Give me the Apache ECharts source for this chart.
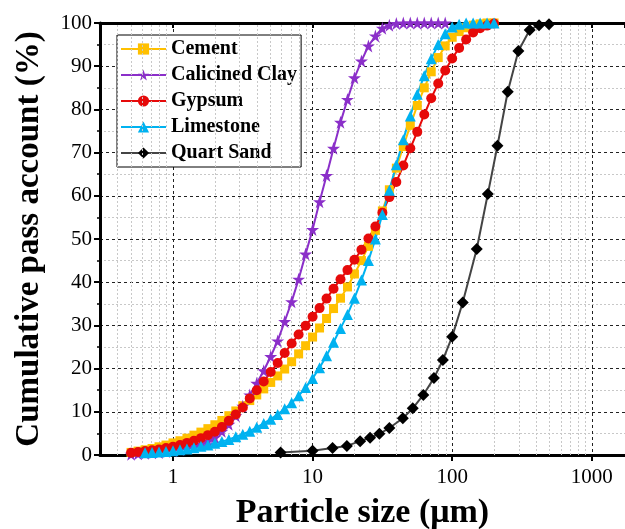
<!DOCTYPE html>
<html>
<head>
<meta charset="utf-8">
<script src="https://cdn.jsdelivr.net/npm/echarts@6/dist/echarts.min.js"></script>
<style>
  html, body { margin: 0; padding: 0; background: #fff; }
  #main { width: 625px; height: 529px; }
</style>
</head>
<body>
<div id="main"></div>
<script>
// particle size bins (µm), shared by the four powder curves
var sizeBins = [0.501, 0.562, 0.631, 0.708, 0.794, 0.891, 1, 1.122, 1.259, 1.413,
  1.585, 1.778, 1.995, 2.239, 2.512, 2.818, 3.162, 3.548, 3.981, 4.467,
  5.012, 5.623, 6.310, 7.079, 7.943, 8.913, 10.0, 11.22, 12.59, 14.13,
  15.85, 17.78, 19.95, 22.39, 25.12, 28.18, 31.62, 35.48, 39.81, 44.67,
  50.12, 56.23, 63.10, 70.79, 79.43, 89.13, 100, 112.2, 125.9, 141.3,
  158.5, 177.8, 199.5, 223.9];

// cumulative passing (%) per bin
var cementPass = [0.6, 0.9, 1.2, 1.5, 1.9, 2.3, 2.8, 3.3, 3.9, 4.6,
  5.3, 6.1, 7.0, 8.0, 9.1, 10.2, 11.4, 12.6, 13.9, 15.3,
  16.8, 18.3, 19.9, 21.6, 23.4, 25.3, 27.3, 29.4, 31.6, 33.9,
  36.3, 38.9, 41.9, 45.0, 48.3, 52.0, 56.5, 61.4, 66.4, 71.4,
  76.3, 80.9, 85.0, 88.7, 92.0, 94.7, 96.7, 98.0, 98.9, 99.5,
  99.8, 100, 100, null];
var clayPass = [0.2, 0.3, 0.4, 0.5, 0.6, 0.8, 1.0, 1.3, 1.6, 2.0,
  2.5, 3.2, 4.1, 5.5, 7.1, 9.1, 11.3, 13.9, 16.6, 19.5,
  22.8, 26.4, 30.9, 35.5, 40.7, 46.5, 52.2, 58.6, 64.7, 71.0,
  77.0, 82.3, 87.3, 91.2, 94.7, 97.0, 98.8, 99.5, 99.9, 100,
  100, 100, 100, 100, 100, 100, null, null, null, null,
  null, null, null, null];
var gypsumPass = [0.5, 0.7, 0.9, 1.1, 1.3, 1.6, 1.9, 2.3, 2.8, 3.3,
  3.9, 4.6, 5.4, 6.5, 7.9, 9.4, 11.0, 13.1, 15.0, 17.0,
  19.2, 21.3, 23.6, 25.8, 27.9, 29.9, 32.0, 34.0, 36.2, 38.5,
  40.7, 42.8, 45.2, 47.5, 50.1, 52.9, 56.1, 59.7, 63.2, 67.0,
  71.0, 74.8, 78.8, 82.6, 86.0, 89.0, 91.8, 94.2, 96.2, 97.8,
  98.8, 99.4, 99.9, null];
var limestonePass = [null, null, 0.5, 0.6, 0.7, 0.8, 1.0, 1.2, 1.4, 1.7,
  2.0, 2.3, 2.7, 3.1, 3.6, 4.2, 4.8, 5.5, 6.4, 7.3,
  8.3, 9.4, 10.7, 12.1, 13.7, 15.6, 17.7, 20.2, 23.0, 26.1,
  29.3, 32.5, 36.3, 40.5, 45.0, 50.0, 55.7, 61.3, 67.2, 73.0,
  78.5, 83.5, 87.8, 91.7, 95.0, 97.5, 99.1, 99.7, 100, 100,
  100, 100, 100, null];

// quartz sand has its own sizes
var sandSize = [5.9, 10, 13.9, 17.6, 21.9, 25.8, 30.1, 35.5, 44.3, 52.2,
  62.1, 74, 85.8, 100, 119, 150, 180, 211, 250, 298, 359, 419, 494];
var sandPass = [0.6, 1.0, 1.6, 2.1, 3.2, 4.0, 4.9, 6.25, 8.5, 10.8,
  13.9, 17.8, 22.0, 27.4, 35.3, 47.7, 60.4, 71.6, 84.1, 93.5, 98.4, 99.5, 99.7];

var xTickLabels = ['1', '10', '100', '1000'];
var xMinorTicks = [0.4, 0.5, 0.6, 0.7, 0.8, 0.9, 2, 3, 4, 5, 6, 7, 8, 9,
  20, 30, 40, 50, 60, 70, 80, 90, 200, 300, 400, 500, 600, 700, 800, 900];

var font = '"Liberation Serif", "Times New Roman", serif';
var starPath = 'path://M50,0 L61,35 L98,35 L68,57 L79,91 L50,70 L21,91 L32,57 L2,35 L39,35 Z';

function pair(xs, ys) {
  var out = [];
  for (var i = 0; i < xs.length; i++) {
    if (ys[i] != null) out.push([xs[i], ys[i]]);
  }
  return out;
}

function curve(name, xs, ys, color, symbol, size, lineColor) {
  return {
    name: name,
    type: 'line',
    data: pair(xs, ys),
    symbol: symbol,
    symbolSize: size,
    showAllSymbol: true,
    lineStyle: { color: lineColor || color, width: 2 },
    itemStyle: { color: color },
    z: 5
  };
}

var minorLines = xMinorTicks.map(function (v) {
  return { xAxis: v };
});
// little tick stubs below the bottom axis
var minorStubs = xMinorTicks.map(function (v) {
  return [
    { coord: [v, 0], lineStyle: { color: '#000', width: 1.5, type: 'solid' } },
    { coord: [v, -0.9] }
  ];
});

var myChart = echarts.init(document.getElementById('main'), null, { renderer: 'canvas' });

var option = {
  animation: false,
  backgroundColor: '#fff',
  grid: { left: 100, right: 0, top: 23, bottom: 74, containLabel: false, outerBoundsMode: 'none' },
  legend: {
    orient: 'vertical',
    left: 117,
    top: 35,
    itemWidth: 45,
    itemHeight: 14,
    itemGap: 6,
    padding: [4, 4, 4, 3],
    backgroundColor: '#fff',
    borderColor: '#000',
    borderWidth: 1,
    textStyle: { fontFamily: font, fontWeight: 'bold', fontSize: 20, color: '#000' },
    data: ['Cement', 'Calicined Clay', 'Gypsum', 'Limestone', 'Quart Sand']
  },
  xAxis: [{
    type: 'log',
    logBase: 10,
    min: 0.3,
    max: 1730,
    position: 'bottom',
    name: 'Particle size (μm)',
    nameLocation: 'middle',
    nameGap: 41,
    nameTextStyle: { fontFamily: font, fontWeight: 'bold', fontSize: 34, color: '#000' },
    axisLine: { show: true, onZero: false, lineStyle: { color: '#000', width: 3 } },
    axisTick: { show: true, inside: false, length: 6, lineStyle: { color: '#000', width: 2 } },
    axisLabel: {
      fontFamily: font, fontSize: 21, color: '#000', margin: 12,
      showMinLabel: false, showMaxLabel: false,
      formatter: function (v) {
        var s = String(Math.round(v));
        return xTickLabels.indexOf(s) >= 0 && Math.abs(v - Math.round(v)) < 1e-6 ? s : '';
      }
    },
    splitLine: { show: true, lineStyle: { color: '#222', width: 1, type: [3, 3] } }
  }, {
    type: 'log',
    logBase: 10,
    min: 0.3,
    max: 1730,
    position: 'top',
    axisLine: { show: true, onZero: false, lineStyle: { color: '#000', width: 3 } },
    axisTick: { show: true, inside: true, length: 5, lineStyle: { color: '#000', width: 2 } },
    axisLabel: { show: false },
    splitLine: { show: false }
  }],
  yAxis: {
    type: 'value',
    min: 0,
    max: 100,
    interval: 10,
    name: 'Cumulative pass account (%)',
    nameLocation: 'middle',
    nameGap: 54,
    nameTextStyle: { fontFamily: font, fontWeight: 'bold', fontSize: 33, color: '#000' },
    axisLine: { show: true, lineStyle: { color: '#000', width: 3 } },
    axisTick: { show: true, inside: false, length: 6, lineStyle: { color: '#000', width: 2 } },
    minorTick: { show: true, splitNumber: 2, length: 3, lineStyle: { color: '#000', width: 1.5 } },
    axisLabel: { fontFamily: font, fontSize: 21, color: '#000', margin: 8 },
    splitLine: { show: true, lineStyle: { color: '#222', width: 1, type: [3, 3] } },
    minorSplitLine: { show: true, lineStyle: { color: '#c8c8c8', width: 1, type: [2, 2] } }
  },
  series: [
    {
      name: 'minor-grid',
      type: 'line',
      data: [],
      silent: true,
      clip: false,
      z: 1,
      markLine: {
        silent: true,
        symbol: ['none', 'none'],
        label: { show: false },
        animation: false,
        lineStyle: { color: '#c8c8c8', width: 1, type: [2, 2] },
        data: minorLines.concat(minorStubs)
      }
    },
    curve('Cement', sizeBins, cementPass, '#FFC000', 'rect', 9),
    curve('Calicined Clay', sizeBins, clayPass, '#8B2FC9', starPath, 13),
    curve('Gypsum', sizeBins, gypsumPass, '#E60A0A', 'circle', 10),
    curve('Limestone', sizeBins, limestonePass, '#00B2F0', 'triangle', 11),
    curve('Quart Sand', sandSize, sandPass, '#000', 'diamond', 12, '#444')
  ]
};

myChart.setOption(option);
</script>
</body>
</html>
